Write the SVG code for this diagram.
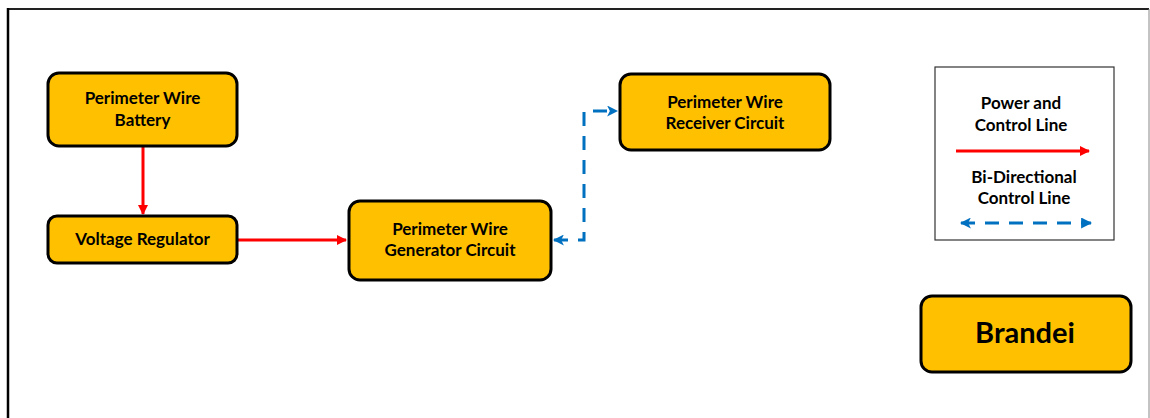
<svg xmlns="http://www.w3.org/2000/svg" width="1150" height="418" viewBox="0 0 1150 418">
  <style>
    .node rect { fill: #FFC000; stroke: #000; stroke-width: 3; }
    .node text, .legend text { font-family: Lato, "Open Sans", "Liberation Sans", sans-serif; font-weight: bold; font-size: 17px; fill: #000; text-anchor: middle; }
    .power { fill: none; stroke: #FF0000; stroke-width: 3; }
    .ctrl { fill: none; stroke: #0070C0; stroke-width: 3; stroke-dasharray: 14 10; }
  </style>
  <defs>
    <marker id="redHead" viewBox="0 0 10 10" refX="9" refY="5" markerWidth="10" markerHeight="10" markerUnits="userSpaceOnUse" orient="auto">
      <path d="M0,0 L10,5 L0,10 Z" fill="#FF0000"/>
    </marker>
    <marker id="blueHead" viewBox="0 0 10 10" refX="9" refY="5" markerWidth="11" markerHeight="11" markerUnits="userSpaceOnUse" orient="auto-start-reverse">
      <path d="M0,0 L10,5 L0,10 L2.5,5 Z" fill="#0070C0"/>
    </marker>
    <marker id="blueTri" viewBox="0 0 10 10" refX="9" refY="5" markerWidth="11" markerHeight="11" markerUnits="userSpaceOnUse" orient="auto">
      <path d="M0,0 L10,5 L0,10 Z" fill="#0070C0"/>
    </marker>
  </defs>

  <!-- page frame -->
  <g id="frame">
    <line x1="8" y1="9" x2="1149" y2="9" stroke="#222" stroke-width="2"/>
    <line x1="8" y1="8" x2="8" y2="418" stroke="#000" stroke-width="2.5"/>
    <line x1="1149" y1="9" x2="1149" y2="418" stroke="#888" stroke-width="1"/>
  </g>

  <!-- connectors -->
  <g id="connectors">
    <line class="power" x1="143" y1="146" x2="143" y2="214" marker-end="url(#redHead)"/>
    <line class="power" x1="237" y1="240" x2="346" y2="240" marker-end="url(#redHead)"/>
    <path class="ctrl" d="M554,240 H584 V111 H617" marker-start="url(#blueHead)" marker-end="url(#blueHead)"/>
  </g>

  <g id="battery" class="node">
    <rect x="48" y="73" width="189" height="73" rx="11"/>
    <text x="142.5" y="104">Perimeter Wire</text>
    <text x="142.5" y="126">Battery</text>
  </g>

  <g id="regulator" class="node">
    <rect x="48" y="216" width="189" height="47" rx="9"/>
    <text x="142.5" y="245">Voltage Regulator</text>
  </g>

  <g id="generator" class="node">
    <rect x="349" y="201" width="202" height="79" rx="11"/>
    <text x="450" y="235">Perimeter Wire</text>
    <text x="450" y="256">Generator Circuit</text>
  </g>

  <g id="receiver" class="node">
    <rect x="620" y="74" width="210" height="76" rx="11"/>
    <text x="725" y="108">Perimeter Wire</text>
    <text x="725" y="129">Receiver Circuit</text>
  </g>

  <g id="legend" class="legend">
    <rect x="935" y="67" width="179" height="173" fill="#fff" stroke="#333" stroke-width="1.2"/>
    <text x="1021" y="109">Power and</text>
    <text x="1021" y="131">Control Line</text>
    <line class="power" x1="956" y1="151" x2="1089" y2="151" marker-end="url(#redHead)"/>
    <text x="1024" y="183">Bi-Directional</text>
    <text x="1024" y="204">Control Line</text>
    <line class="ctrl" x1="961" y1="223" x2="1091" y2="223" stroke-dasharray="0 22 14 15 14 15 14 40" marker-start="url(#blueHead)" marker-end="url(#blueTri)"/>
  </g>

  <g id="brandei" class="node">
    <rect x="921" y="296" width="210" height="76" rx="11"/>
    <text x="1025" y="343" style="font-size:29px">Brandei</text>
  </g>
</svg>
